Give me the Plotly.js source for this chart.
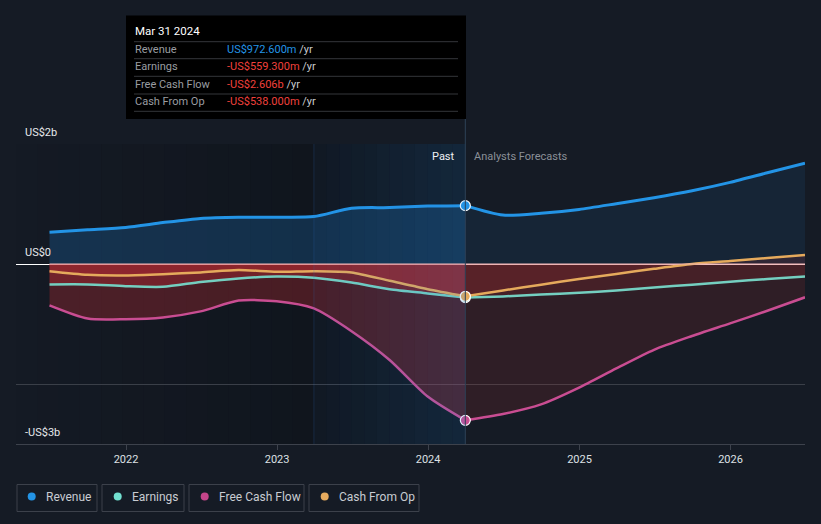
<!DOCTYPE html>
<html>
<head>
<meta charset="utf-8">
<script src="https://cdn.plot.ly/plotly-3.0.1.min.js"></script>
<style>html,body{margin:0;padding:0;background:#151b25;}#chart{width:821px;height:524px;}</style>
</head>
<body>
<div id="chart"></div>
<script>
// ---- data (US$ billions) ----
const pastDates = ['2021-06-30','2021-09-30','2021-12-31','2022-03-31','2022-06-30','2022-09-30','2022-12-31','2023-03-31','2023-06-30','2023-09-30','2023-12-31','2024-03-31'];
const fcstDates = ['2024-03-31','2024-06-30','2024-09-30','2024-12-31','2025-03-31','2025-06-30','2025-09-30','2025-12-31','2026-03-31','2026-06-30'];

const revenuePast  = [0.53, 0.57, 0.61, 0.69, 0.76, 0.78, 0.78, 0.79, 0.93, 0.94, 0.965, 0.9726];
const revenueFcst  = [0.9726, 0.815, 0.845, 0.91, 1.005, 1.105, 1.22, 1.36, 1.52, 1.68];
const earningsPast = [-0.34, -0.34, -0.37, -0.38, -0.30, -0.24, -0.21, -0.23, -0.31, -0.42, -0.49, -0.5593];
const earningsFcst = [-0.5593, -0.54, -0.51, -0.48, -0.44, -0.39, -0.345, -0.295, -0.25, -0.21];
const fcfPast      = [-0.69, -0.91, -0.92, -0.89, -0.79, -0.61, -0.62, -0.74, -1.12, -1.60, -2.21, -2.606];
const fcfFcst      = [-2.606, -2.50, -2.34, -2.06, -1.74, -1.43, -1.20, -0.99, -0.78, -0.555];
const cfoPast      = [-0.12, -0.18, -0.19, -0.17, -0.14, -0.10, -0.13, -0.12, -0.14, -0.28, -0.42, -0.538];
const cfoFcst      = [-0.538, -0.44, -0.345, -0.25, -0.165, -0.08, 0.0, 0.05, 0.10, 0.15];

const seriesNames = ['Revenue', 'Earnings', 'Free Cash Flow', 'Cash From Op'];
const tooltipDate = 'Mar 31 2024';
const tooltipValues = ['US$972.600m', '-US$559.300m', '-US$2.606b', '-US$538.000m'];
const xTickVals = ['2022-01-01','2023-01-01','2024-01-01','2025-01-01','2026-01-01'];
const xTickText = ['2022','2023','2024','2025','2026'];
const yLabelVals = [2, 0, -3];
const yLabelText = ['US$2b', 'US$0', '-US$3b'];

// ---- styles ----
const C = {rev:'#2394e6', earn:'#74cfc0', fcf:'#c94d92', cfo:'#e5aa5c'};
const legendDots = ['#2394e6', '#72e0d0', '#c4458a', '#e6ab5e'];
const FONT = 'Roboto, "Open Sans", sans-serif';
const xRange = ['2021-04-10', '2026-06-30'];
const pastStart = '2023-03-31', hoverDate = '2024-03-31';

function line(x, y, color, width, fill, name) {
  const t = {x: x, y: y, type: 'scatter', mode: 'lines', name: name,
    line: {color: color, width: width, shape: 'spline', smoothing: 0.7}, hoverinfo: 'skip'};
  if (fill) { t.fill = 'tozeroy'; t.fillcolor = fill; }
  return t;
}
const redPast = 'rgba(205,48,52,0.30)', redFc = 'rgba(205,48,52,0.14)';
const traces = [
  line(pastDates, revenuePast, C.rev, 3, 'rgba(33,140,230,0.22)', 'Revenue'),
  line(fcstDates, revenueFcst, C.rev, 3, 'rgba(33,140,230,0.09)', 'Revenue'),
  line(pastDates, fcfPast, C.fcf, 2.5, redPast, 'Free Cash Flow'),
  line(fcstDates, fcfFcst, C.fcf, 2.5, redFc, 'Free Cash Flow'),
  line(pastDates, earningsPast, C.earn, 2.5, redPast, 'Earnings'),
  line(fcstDates, earningsFcst, C.earn, 2.5, redFc, 'Earnings'),
  line(pastDates, cfoPast, C.cfo, 2.5, redPast, 'Cash From Op'),
  line(fcstDates, cfoFcst, C.cfo, 2.5, redFc, 'Cash From Op'),
];
const last = pastDates.length - 1;
[[revenuePast, C.rev], [earningsPast, C.earn], [fcfPast, C.fcf], [cfoPast, C.cfo]].forEach(([arr, col]) => {
  traces.push({x: [pastDates[last]], y: [arr[last]], type: 'scatter', mode: 'markers', hoverinfo: 'skip',
    marker: {size: 10, color: col, line: {color: '#ffffff', width: 1.2}}});
});

// helpers
const PL = 16, PT = 144, PW = 789, PH = 300;
const px = x => (x - PL) / PW;
const py = y => (PT + PH - y) / PH;
function ds(ms) { return new Date(ms).toISOString().replace('T', ' ').replace('Z', ''); }

const shapes = [];
// darker gradient on the older period
{
  const a = Date.parse(xRange[0]), b = Date.parse(pastStart), n = 14;
  for (let i = 0; i < n; i++) {
    shapes.push({type: 'rect', xref: 'x', yref: 'paper', x0: ds(a + (b - a) * i / n), x1: ds(a + (b - a) * (i + 1) / n),
      y0: 0, y1: 1, fillcolor: 'rgba(5,8,12,' + (0.02 + 0.26 * i / (n - 1)).toFixed(3) + ')', line: {width: 0}, layer: 'below'});
  }
  shapes.push({type: 'rect', xref: 'x', yref: 'paper', x0: pastStart, x1: hoverDate, y0: 0, y1: 1,
    fillcolor: 'rgba(5,8,12,0.28)', line: {width: 0}, layer: 'below'});
}
// highlighted last year
{
  const a = Date.parse(pastStart), b = Date.parse(hoverDate), n = 12;
  for (let i = 0; i < n; i++) {
    shapes.push({type: 'rect', xref: 'x', yref: 'paper', x0: ds(a + (b - a) * i / n), x1: ds(a + (b - a) * (i + 1) / n),
      y0: 0, y1: 1, fillcolor: 'rgba(40,140,230,' + (0.04 + 0.11 * i / (n - 1)).toFixed(3) + ')', line: {width: 0}, layer: 'above'});
  }
  shapes.push({type: 'line', xref: 'x', yref: 'paper', x0: pastStart, x1: pastStart, y0: 0, y1: 1,
    line: {color: 'rgba(60,120,180,0.22)', width: 1}, layer: 'above'});
}
// zero line over data span
shapes.push({type: 'line', xref: 'x', yref: 'y', x0: pastDates[0], x1: xRange[1], y0: 0, y1: 0,
  line: {color: '#f2b6b6', width: 1.2}, layer: 'above'});
// tooltip box
shapes.push({type: 'rect', xref: 'paper', yref: 'paper', x0: px(126), x1: px(466), y0: py(119), y1: py(15.5),
  fillcolor: '#000000', line: {width: 0}});
// hover vertical line
shapes.push({type: 'line', xref: 'x', yref: 'paper', x0: hoverDate, x1: hoverDate, y0: 0, y1: py(119),
  line: {color: '#2e4158', width: 1}, layer: 'above'});
[41.7, 58.7, 76.3, 94, 111.3].forEach(y => {
  shapes.push({type: 'line', xref: 'paper', yref: 'paper', x0: px(134), x1: px(458), y0: py(y), y1: py(y),
    line: {color: '#34363a', width: 1}});
});
// legend boxes
const legBoxes = [[17, 97], [102, 184], [189, 304], [309, 419]];
const legDotX = [31.7, 117.7, 204.7, 324.7];
const legTextX = [44.3, 130, 217, 337];
legBoxes.forEach((b, i) => {
  shapes.push({type: 'rect', xref: 'paper', yref: 'paper', x0: px(b[0]), x1: px(b[1]), y0: py(511.5), y1: py(484.5),
    fillcolor: 'rgba(0,0,0,0)', line: {color: '#3c414b', width: 1}});
  shapes.push({type: 'circle', xref: 'paper', yref: 'paper', xsizemode: 'pixel', ysizemode: 'pixel',
    xanchor: px(legDotX[i]), yanchor: py(496.5), x0: -4, x1: 4, y0: -4, y1: 4,
    fillcolor: legendDots[i], line: {width: 0}});
});

const annotations = [];
yLabelVals.forEach((v, i) => {
  annotations.push({xref: 'paper', yref: 'y', x: 0, y: v, xanchor: 'left', yanchor: 'middle', xshift: 7, yshift: 12,
    text: yLabelText[i], showarrow: false, font: {family: FONT, size: 11, color: '#e6e8eb'}});
});
annotations.push({xref: 'x', yref: 'paper', x: hoverDate, y: py(156), xanchor: 'right', yanchor: 'middle', xshift: -8,
  text: 'Past', showarrow: false, font: {family: FONT, size: 11, color: '#eef0f2'}});
annotations.push({xref: 'x', yref: 'paper', x: hoverDate, y: py(156), xanchor: 'left', yanchor: 'middle', xshift: 7,
  text: 'Analysts Forecasts', showarrow: false, font: {family: FONT, size: 11, color: '#8b9098'}});
annotations.push({xref: 'paper', yref: 'paper', x: px(133), y: py(31), xanchor: 'left', yanchor: 'middle',
  text: tooltipDate, showarrow: false, font: {family: FONT, size: 11.5, color: '#ffffff'}});
const rowY = [49.5, 66.5, 84, 101];
const valColors = ['#2394e6', '#f0403c', '#f0403c', '#f0403c'];
seriesNames.forEach((n, i) => {
  annotations.push({xref: 'paper', yref: 'paper', x: px(133), y: py(rowY[i]), xanchor: 'left', yanchor: 'middle',
    text: n, showarrow: false, font: {family: FONT, size: 11, color: '#9a9da2'}});
  annotations.push({xref: 'paper', yref: 'paper', x: px(225), y: py(rowY[i]), xanchor: 'left', yanchor: 'middle',
    text: '<span style="color:' + valColors[i] + '">' + tooltipValues[i] + '</span> /yr', showarrow: false,
    font: {family: FONT, size: 11, color: '#c9cbce'}});
  annotations.push({xref: 'paper', yref: 'paper', x: px(legTextX[i]), y: py(496.5), xanchor: 'left', yanchor: 'middle',
    text: n, showarrow: false, font: {family: FONT, size: 12, color: '#c8ccd2'}});
});

const layout = {
  width: 821, height: 524,
  margin: {l: PL, r: 821 - PL - PW, t: PT, b: 524 - PT - PH},
  paper_bgcolor: '#151b25', plot_bgcolor: '#151b25',
  showlegend: false, hovermode: false,
  xaxis: {type: 'date', range: xRange, tickvals: xTickVals, ticktext: xTickText, showgrid: false,
    showline: true, linecolor: '#3d424c', linewidth: 1, ticks: 'outside', ticklen: 5, tickcolor: '#3d424c',
    tickfont: {family: FONT, size: 11, color: '#dde0e4'}, zeroline: false, fixedrange: true},
  yaxis: {range: [-3, 2], tickvals: [-2, 2], showticklabels: false, showgrid: true, gridcolor: '#3a3f48', gridwidth: 1,
    zeroline: true, zerolinecolor: '#ffffff', zerolinewidth: 1, showline: false, fixedrange: true},
  shapes: shapes, annotations: annotations
};
Plotly.newPlot('chart', traces, layout, {displayModeBar: false, staticPlot: true});
</script>
</body>
</html>
